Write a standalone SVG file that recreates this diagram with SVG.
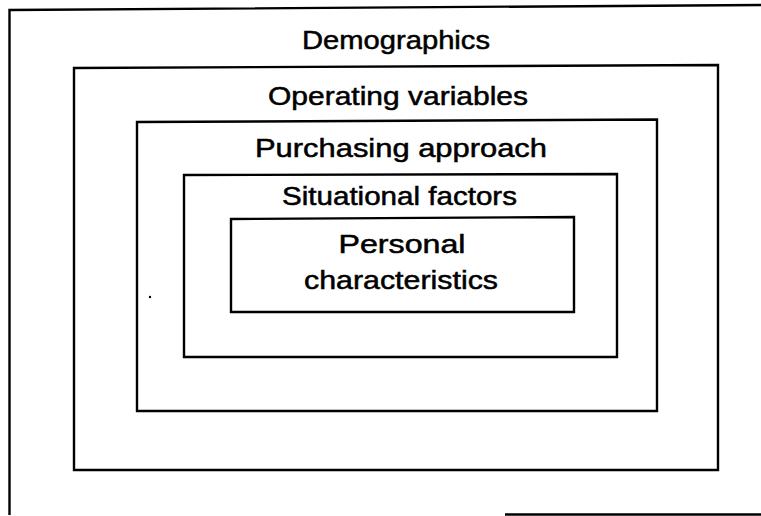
<svg xmlns="http://www.w3.org/2000/svg" width="761" height="516" viewBox="0 0 761 516">
  <style>
    .frame { fill: none; stroke: #000; stroke-width: 2.4; stroke-linejoin: miter; }
    .label { font-family: "Liberation Sans", Arial, Helvetica, sans-serif; font-size: 25px; fill: #000; stroke: #000; stroke-width: 0.5; text-anchor: middle; }
  </style>
  <rect width="761" height="516" fill="#fff"/>

  <!-- outer border (open on the right) -->
  <g id="border" class="frame">
    <polyline points="761,5 9.5,10 9.5,515"/>
    <line x1="505" y1="514.5" x2="761" y2="514.5"/>
  </g>

  <g id="demographics">
    <text class="label" x="396" y="49" font-size="24" textLength="188" lengthAdjust="spacingAndGlyphs">Demographics</text>
  </g>

  <g id="operating-variables">
    <path class="frame" d="M74,68 L718,65 L718,470 L74,470 Z"/>
    <text class="label" x="398" y="105" textLength="260" lengthAdjust="spacingAndGlyphs">Operating variables</text>
  </g>

  <g id="purchasing-approach">
    <path class="frame" d="M137,122 L657,119.5 L657,411 L137,411 Z"/>
    <text class="label" x="401" y="157" textLength="292" lengthAdjust="spacingAndGlyphs">Purchasing approach</text>
  </g>

  <g id="situational-factors">
    <path class="frame" d="M184,175 L617,174 L617,357 L184,357 Z"/>
    <text class="label" x="399.5" y="205" textLength="235" lengthAdjust="spacingAndGlyphs">Situational factors</text>
  </g>

  <g id="personal-characteristics">
    <path class="frame" d="M231,219 L574,217 L574,312 L231,312 Z"/>
    <text class="label" x="402" y="253" textLength="127" lengthAdjust="spacingAndGlyphs">Personal</text>
    <text class="label" x="401" y="289" textLength="194" lengthAdjust="spacingAndGlyphs">characteristics</text>
  </g>

  <circle cx="150" cy="297" r="1.2" fill="#000"/>
</svg>
